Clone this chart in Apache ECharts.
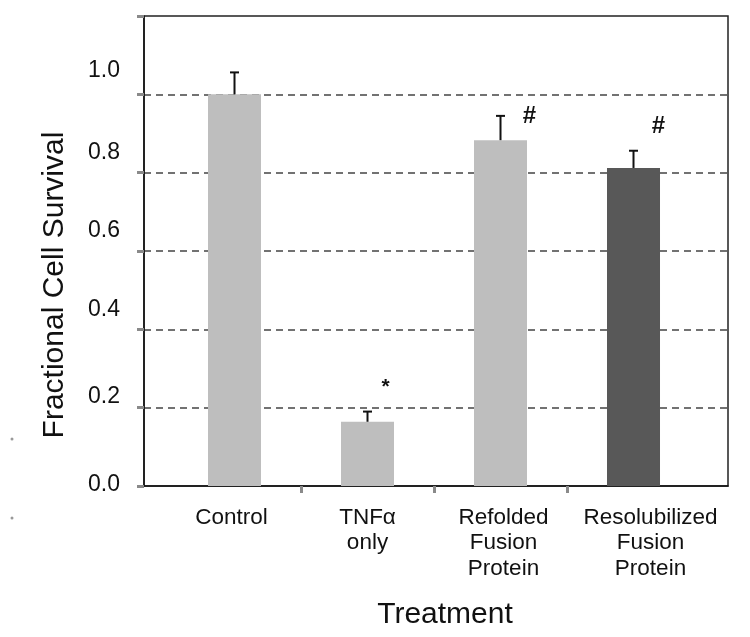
<!DOCTYPE html>
<html>
<head>
<meta charset="utf-8">
<script src="https://cdn.jsdelivr.net/npm/echarts@6/dist/echarts.min.js"></script>
<style>html,body{margin:0;padding:0;background:#fff}#c{width:750px;height:637px}</style>
</head>
<body>
<div id="c"></div>
<script>
// ---------- data ----------
const categories = ['Control', 'TNF\u03b1\nonly', 'Refolded\nFusion\nProtein', 'Resolubilized\nFusion\nProtein'];
const survival = [1.0, 0.164, 0.883, 0.812];
const errors = [0.056, 0.026, 0.062, 0.044];
const annotations = ['', '*', '#', '#'];
const yTicks = [0, 0.2, 0.4, 0.6, 0.8, 1.0, 1.2];
const yTickLabels = ['0.0', '0.2', '0.4', '0.6', '0.8', '1.0', ''];

// ---------- layout / style ----------
const FONT = 'Liberation Sans, Arial, Helvetica, sans-serif';
const barColors = ['#bebebe', '#bebebe', '#bebebe', '#585858'];
const yLabelLift = [1, 11, 20, 20, 20, 24, 0];       // px the reference lifts each y label
const xLabelShift = [-3, 0, 3, 17];                   // px horizontal shift of each x label
const annotationOffsets = [[0, 0], [18, -24], [29, 0], [25, -24]];

const chart = echarts.init(document.getElementById('c'), null, {renderer: 'canvas'});

const yRich = {};
yTicks.forEach((t, i) => {
  yRich['y' + i] = {fontSize: 23, fontFamily: FONT, color: '#111', padding: [0, 0, 2 * yLabelLift[i], 0]};
});
const xRich = {};
categories.forEach((c, i) => {
  const s = xLabelShift[i];
  xRich['x' + i] = {fontSize: 22.5, fontFamily: FONT, color: '#111', lineHeight: 25.5,
    padding: s >= 0 ? [0, 0, 0, 2 * s] : [0, -2 * s, 0, 0]};
});

const option = {
  backgroundColor: '#fff',
  animation: false,
  grid: {left: 144, right: 22, top: 16, bottom: 151, show: true, borderColor: '#222', borderWidth: 1.5,
         backgroundColor: 'transparent', containLabel: false, outerBoundsMode: 'none'},
  xAxis: {
    type: 'value', min: -0.1805, max: 4.2105,
    name: 'Treatment', nameLocation: 'middle', nameGap: 114, nameMoveOverlap: false,
    nameTextStyle: {fontSize: 30, fontFamily: FONT, color: '#111', padding: [0, 0, 0, 18]},
    axisLine: {show: true, onZero: false, lineStyle: {color: '#111', width: 1.5}},
    axisTick: {show: true, length: 7, customValues: [1, 2, 3], lineStyle: {color: '#8a8a8a', width: 3}},
    axisLabel: {
      customValues: categories.map((c, i) => i + 0.5), margin: 19,
      formatter: function (v) {
        const i = Math.round(v - 0.5);
        if (i < 0 || i >= categories.length) return '';
        return categories[i].split('\n').map(l => '{x' + i + '|' + l + '}').join('\n');
      },
      rich: xRich
    },
    splitLine: {show: false}
  },
  yAxis: {
    type: 'value', min: 0, max: 1.2, interval: 0.2,
    name: 'Fractional Cell Survival', nameLocation: 'middle', nameGap: 74, nameMoveOverlap: false,
    nameTextStyle: {fontSize: 30, fontFamily: FONT, color: '#111', padding: [0, 68, 0, 0]},
    axisLine: {show: true, onZero: false, lineStyle: {color: '#111', width: 1.5}},
    axisTick: {show: true, length: 7, lineStyle: {color: '#8a8a8a', width: 3}},
    axisLabel: {
      margin: 24,
      formatter: function (v) {
        const i = yTicks.findIndex(t => Math.abs(t - v) < 1e-6);
        if (i < 0 || !yTickLabels[i]) return '';
        return '{y' + i + '|' + yTickLabels[i] + '}';
      },
      rich: yRich
    },
    splitLine: {show: true, showMinLine: false, showMaxLine: false,
      lineStyle: {type: [7, 5], color: '#444', width: 1.5}}
  },
  series: [
    {
      type: 'bar', barWidth: 53,
      data: survival.map((v, i) => [i + 0.5, v]),
      itemStyle: {color: p => barColors[p.dataIndex]},
      z: 2
    },
    {
      type: 'custom', z: 3,
      data: survival.map((v, i) => [i + 0.5, v, errors[i]]),
      renderItem: function (params, api) {
        const x = api.value(0), v = api.value(1), e = api.value(2);
        const base = api.coord([x, v]);
        const top = api.coord([x, v + e]);
        const cap = 4.5;
        const i = params.dataIndex;
        const children = [
          {type: 'line', shape: {x1: base[0], y1: base[1], x2: top[0], y2: top[1]},
           style: {stroke: '#111', lineWidth: 2}},
          {type: 'line', shape: {x1: top[0] - cap, y1: top[1], x2: top[0] + cap, y2: top[1]},
           style: {stroke: '#111', lineWidth: 2}}
        ];
        if (annotations[i]) {
          const big = annotations[i] === '#';
          children.push({type: 'text', style: {
            text: annotations[i], x: top[0] + annotationOffsets[i][0], y: top[1] + annotationOffsets[i][1],
            align: 'center', verticalAlign: 'middle', fill: '#111',
            font: 'bold ' + (big ? 24 : 21) + 'px ' + FONT}});
        }
        return {type: 'group', children: children};
      }
    }
  ],
  graphic: [
    {type: 'circle', shape: {cx: 12, cy: 439, r: 1.5}, style: {fill: '#999'}},
    {type: 'circle', shape: {cx: 12, cy: 518, r: 1.5}, style: {fill: '#999'}}
  ]
};
chart.setOption(option);
</script>
</body>
</html>
